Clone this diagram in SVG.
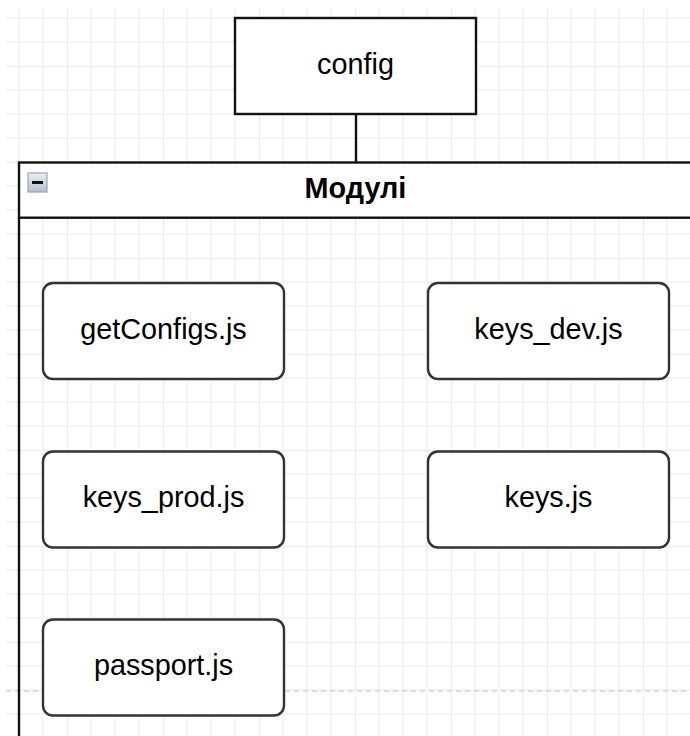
<svg xmlns="http://www.w3.org/2000/svg" width="690" height="736" viewBox="0 0 690 736">
  <defs>
    <!-- 24px grid with a stronger line every 96px -->
    <pattern id="grid" patternUnits="userSpaceOnUse" x="-29" y="-30" width="96" height="96">
      <path d="M24 0V96M48 0V96M72 0V96M0 24H96M0 48H96M0 72H96" stroke="#f1f1f1" stroke-width="1.5" fill="none"/>
      <path d="M0 0V96M0 0H96" stroke="#e4e4e4" stroke-width="1.5" fill="none"/>
    </pattern>
    <linearGradient id="iconFill" x1="0" y1="0" x2="0" y2="1">
      <stop offset="0" stop-color="#eef0f5"/>
      <stop offset="1" stop-color="#b7bdcb"/>
    </linearGradient>
    <style>
      .box { fill: #ffffff; stroke: #111111; stroke-width: 2.4; }
      .module { fill: #ffffff; stroke: #333333; stroke-width: 2.4; }
      .label { font-family: "Liberation Sans", Arial, sans-serif; font-size: 28.8px; fill: #000000; text-anchor: middle; }
      .title { font-weight: bold; }
      .edge { stroke: #111111; stroke-width: 2.4; fill: none; }
    </style>
  </defs>

  <rect x="0" y="0" width="690" height="736" fill="#ffffff"/>
  <rect x="6" y="9" width="684" height="727" fill="url(#grid)"/>

  <!-- page break -->
  <line x1="6" y1="691" x2="690" y2="691" stroke="#c4c4c4" stroke-width="1.2" stroke-dasharray="5 4"/>

  <g id="edges">
    <line class="edge" x1="356" y1="114" x2="356" y2="162.5"/>
  </g>

  <g id="config">
    <rect class="box" x="235" y="18" width="241" height="96"/>
    <text class="label" x="355.5" y="73.5">config</text>
  </g>

  <g id="modules">
    <rect class="box" x="19" y="162.5" width="700" height="55.2"/>
    <line class="edge" x1="19" y1="217.7" x2="19" y2="740"/>
    <text class="label title" x="355.5" y="198">Модулі</text>
    <g id="collapse">
      <rect x="28" y="173" width="19" height="19" fill="url(#iconFill)" stroke="#9aa3b5" stroke-width="1.2"/>
      <line x1="32" y1="182.5" x2="43" y2="182.5" stroke="#111111" stroke-width="3"/>
    </g>
  </g>

  <g id="getConfigs">
    <rect class="module" x="43" y="283" width="241" height="96" rx="10"/>
    <text class="label" x="163.5" y="338.5">getConfigs.js</text>
  </g>

  <g id="keys_dev">
    <rect class="module" x="428" y="283" width="241" height="96" rx="10"/>
    <text class="label" x="548.5" y="338.5">keys_dev.js</text>
  </g>

  <g id="keys_prod">
    <rect class="module" x="43" y="451.5" width="241" height="96" rx="10"/>
    <text class="label" x="163.5" y="507">keys_prod.js</text>
  </g>

  <g id="keys">
    <rect class="module" x="428" y="451.5" width="241" height="96" rx="10"/>
    <text class="label" x="548.5" y="507">keys.js</text>
  </g>

  <g id="passport">
    <rect class="module" x="43" y="619.5" width="241" height="96" rx="10"/>
    <text class="label" x="163.5" y="675">passport.js</text>
  </g>
</svg>
